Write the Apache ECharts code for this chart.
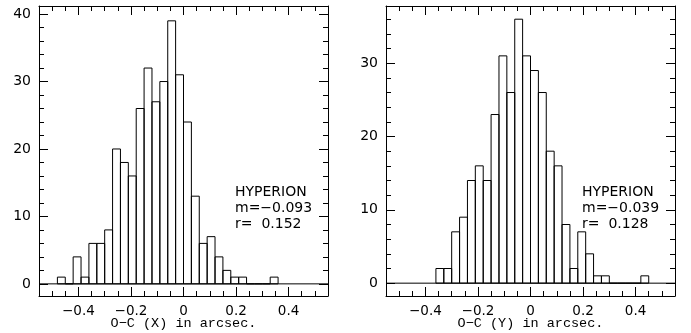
<!DOCTYPE html>
<html>
<head>
<meta charset="utf-8">
<script src="https://cdn.jsdelivr.net/npm/echarts@6/dist/echarts.min.js"></script>
<style>
html,body{margin:0;padding:0;background:#fff;}
#chart{width:691px;height:333px;}
</style>
</head>
<body>
<div id="chart"></div>
<script>
// ---------- data ----------
const binWidth = 0.03;
const binStartX = [-0.48,-0.45,-0.42,-0.39,-0.36,-0.33,-0.30,-0.27,-0.24,-0.21,-0.18,-0.15,-0.12,-0.09,-0.06,-0.03,0.00,0.03,0.06,0.09,0.12,0.15,0.18,0.21,0.24,0.27,0.30,0.33];
const countsX   = [1,0,4,1,6,6,8,20,18,16,26,32,27,30,39,31,24,13,6,7,4,2,1,1,0,0,0,1];
const binStartY = [-0.36,-0.33,-0.30,-0.27,-0.24,-0.21,-0.18,-0.15,-0.12,-0.09,-0.06,-0.03,0.00,0.03,0.06,0.09,0.12,0.15,0.18,0.21,0.24,0.27,0.30,0.33,0.36,0.39,0.42];
const countsY   = [2,2,7,9,14,16,14,23,31,26,36,31,29,26,18,16,8,2,7,4,1,1,0,0,0,0,1];

const xMajorTicks = [-0.4,-0.2,0,0.2,0.4];
const xMinorTicks = [-0.5,-0.45,-0.4,-0.35,-0.3,-0.25,-0.2,-0.15,-0.1,-0.05,0,0.05,0.1,0.15,0.2,0.25,0.3,0.35,0.4,0.45,0.5];
const xTickLabels = ['\u22120.4','\u22120.2','0','0.2','0.4'];
const yMajorTicksX = [0,10,20,30,40];
const yMinorTicksX = [0,2,4,6,8,10,12,14,16,18,20,22,24,26,28,30,32,34,36,38,40];
const yMajorTicksY = [0,10,20,30];
const yMinorTicksY = [0,2,4,6,8,10,12,14,16,18,20,22,24,26,28,30,32,34,36];

const xTitleX = 'O\u2212C (X) in arcsec.';
const xTitleY = 'O\u2212C (Y) in arcsec.';
const noteX = ['HYPERION','m=\u22120.093','r=  0.152'];
const noteY = ['HYPERION','m=\u22120.039','r=  0.128'];

const X_MIN = -0.55, X_MAX = 0.55;
const Y_RANGE_X = [-1.8, 41.2];
const Y_RANGE_Y = [-1.75, 37.8];

// ---------- chart ----------
const FONT = 'DejaVu Sans';
function xFmt(v){
  const i = xMajorTicks.findIndex(t => Math.abs(t - v) < 1e-9);
  return i >= 0 ? xTickLabels[i] : '';
}
function yFmt(list){
  return function(v){ const r = Math.round(v); return (Math.abs(v-r)<1e-9 && list.indexOf(r) >= 0) ? String(r) : ''; };
}
function xAxis(g, pos, ticks, len, withLine, title){
  const a = {gridIndex:g, type:'value', min:X_MIN, max:X_MAX, position:pos, splitLine:{show:false},
    axisLine:{show:withLine, onZero:false, lineStyle:{color:'#000', width:1}},
    axisTick:{show:true, inside:true, length:len, customValues:ticks, lineStyle:{color:'#000', width:1}},
    axisLabel:{show:false}};
  if (title) {
    a.axisLabel = {show:true, customValues:xMajorTicks, formatter:xFmt, margin:8, color:'#000', fontFamily:FONT, fontSize:13.5};
    a.name = title; a.nameLocation = 'middle'; a.nameGap = 20; a.nameMoveOverlap = false;
    a.nameTextStyle = {color:'#000', fontFamily:'Liberation Mono', fontSize:13.5};
  }
  return a;
}
function yAxis(g, pos, range, ticks, len, withLine, labels){
  const a = {gridIndex:g, type:'value', min:range[0], max:range[1], position:pos, splitLine:{show:false},
    axisLine:{show:withLine, onZero:false, lineStyle:{color:'#000', width:1}},
    axisTick:{show:true, inside:true, length:len, customValues:ticks, lineStyle:{color:'#000', width:1}},
    axisLabel:{show:false}};
  if (labels) a.axisLabel = {show:true, customValues:labels, formatter:yFmt(labels), margin:8, color:'#000', fontFamily:FONT, fontSize:14};
  return a;
}
function renderBar(params, api){
  const x0 = api.value(0), c = api.value(1);
  const p0 = api.coord([x0, c]);
  const p1 = api.coord([x0 + binWidth, 0]);
  return {type:'rect',
    shape:{x:p0[0], y:p0[1], width:p1[0]-p0[0], height:p1[1]-p0[1]},
    style:{fill:'none', stroke:'#000', lineWidth:1}};
}
function histData(starts, counts){ return starts.map((s,i)=>[s, counts[i]]); }

const gL = {left:39, right:363, top:6, bottom:37, containLabel:false, outerBoundsMode:'none'};
const gR = {left:386, right:16, top:6, bottom:37, containLabel:false, outerBoundsMode:'none'};

const chart = echarts.init(document.getElementById('chart'), null, {renderer:'canvas'});
chart.setOption({
  animation:false,
  backgroundColor:'#fff',
  grid:[gL, Object.assign({}, gL), gR, Object.assign({}, gR)],
  xAxis:[
    xAxis(0,'bottom',xMajorTicks,9,true,xTitleX),
    xAxis(0,'top',xMajorTicks,9,true,null),
    xAxis(1,'bottom',xMinorTicks,5,false,null),
    xAxis(1,'top',xMinorTicks,5,false,null),
    xAxis(2,'bottom',xMajorTicks,9,true,xTitleY),
    xAxis(2,'top',xMajorTicks,9,true,null),
    xAxis(3,'bottom',xMinorTicks,5,false,null),
    xAxis(3,'top',xMinorTicks,5,false,null)
  ],
  yAxis:[
    yAxis(0,'left',Y_RANGE_X,yMajorTicksX,9,true,yMajorTicksX),
    yAxis(0,'right',Y_RANGE_X,yMajorTicksX,9,true,null),
    yAxis(1,'left',Y_RANGE_X,yMinorTicksX,5,false,null),
    yAxis(1,'right',Y_RANGE_X,yMinorTicksX,5,false,null),
    yAxis(2,'left',Y_RANGE_Y,yMajorTicksY,9,true,yMajorTicksY),
    yAxis(2,'right',Y_RANGE_Y,yMajorTicksY,9,true,null),
    yAxis(3,'left',Y_RANGE_Y,yMinorTicksY,5,false,null),
    yAxis(3,'right',Y_RANGE_Y,yMinorTicksY,5,false,null)
  ],
  series:[
    {type:'line', xAxisIndex:0, yAxisIndex:0, data:[[X_MIN,0],[X_MAX,0]], symbol:'none', lineStyle:{color:'#000', width:1}, silent:true},
    {type:'custom', xAxisIndex:0, yAxisIndex:0, data:histData(binStartX, countsX), renderItem:renderBar, silent:true},
    {type:'line', xAxisIndex:4, yAxisIndex:4, data:[[X_MIN,0],[X_MAX,0]], symbol:'none', lineStyle:{color:'#000', width:1}, silent:true},
    {type:'custom', xAxisIndex:4, yAxisIndex:4, data:histData(binStartY, countsY), renderItem:renderBar, silent:true}
  ],
  graphic:[
    {type:'text', left:235, top:185, style:{text:noteX.join('\n'), fontFamily:FONT, fontSize:14, lineHeight:15.7, fill:'#000'}},
    {type:'text', left:582, top:185, style:{text:noteY.join('\n'), fontFamily:FONT, fontSize:14, lineHeight:15.7, fill:'#000'}}
  ]
});
</script>
</body>
</html>
